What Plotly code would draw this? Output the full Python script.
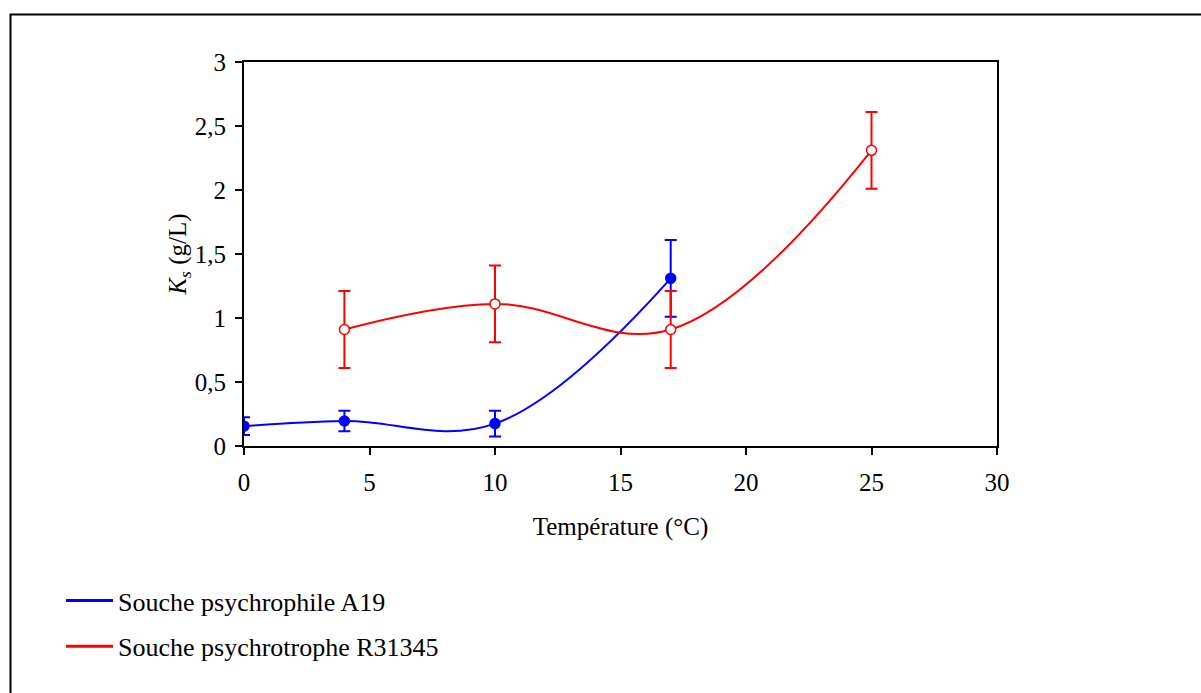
import plotly.graph_objects as go

# Data
temp_a19 = [0, 4, 10, 17]
ks_a19 = [0.155, 0.195, 0.175, 1.31]
err_a19 = [0.07, 0.08, 0.10, 0.30]

temp_r31345 = [4, 10, 17, 25]
ks_r31345 = [0.91, 1.11, 0.91, 2.31]
err_r31345 = [0.30, 0.30, 0.30, 0.30]

name_a19 = "Souche psychrophile A19"
name_r = "Souche psychrotrophe R31345"

FONT = "Liberation Serif, Times New Roman, serif"
BLUE = "#0000FF"
RED = "#FF0000"

fig = go.Figure()

fig.add_trace(go.Scatter(
    x=temp_a19, y=ks_a19, mode="lines+markers",
    line=dict(color=BLUE, width=2, shape="spline", smoothing=1.1),
    marker=dict(symbol="circle", size=10, color=BLUE, line=dict(color=BLUE, width=1.5)),
    error_y=dict(type="data", array=err_a19, visible=True, color=BLUE, thickness=2, width=6),
    showlegend=False,
))
fig.add_trace(go.Scatter(
    x=temp_r31345, y=ks_r31345, mode="lines+markers",
    line=dict(color=RED, width=2, shape="spline", smoothing=1.1),
    marker=dict(symbol="circle", size=10, color="white", line=dict(color=RED, width=1.5)),
    error_y=dict(type="data", array=err_r31345, visible=True, color=RED, thickness=2, width=6),
    showlegend=False,
))

# legend entries (line only)
fig.add_trace(go.Scatter(x=[None], y=[None], mode="lines", name=name_a19,
                         legendgroup="a", line=dict(color=BLUE, width=3)))
fig.add_trace(go.Scatter(x=[None], y=[None], mode="lines", name=name_r,
                         legendgroup="b", line=dict(color=RED, width=3)))

# outer frame
fig.add_shape(type="rect", xref="paper", yref="paper",
              x0=(10.5 - 244) / 753, x1=(1210 - 244) / 753,
              y0=(446 - 710) / 384, y1=(446 - 14.5) / 384,
              line=dict(color="black", width=2), fillcolor="rgba(0,0,0,0)", layer="below")

fig.update_layout(
    width=1201, height=693,
    margin=dict(l=244, r=204, t=62, b=247),
    paper_bgcolor="white", plot_bgcolor="white",
    separators=", ",
    font=dict(family=FONT, size=25, color="black"),
    legend=dict(x=(61 - 244) / 753, y=(446 - 577) / 384, xanchor="left", yanchor="top",
                bgcolor="rgba(0,0,0,0)", itemwidth=47, tracegroupgap=9,
                font=dict(family=FONT, size=26)),
    xaxis=dict(range=[0, 30], dtick=5, tick0=0, showgrid=False, zeroline=False,
               showline=True, linecolor="black", linewidth=2, mirror=True,
               ticks="outside", ticklen=7, tickwidth=2, tickcolor="black",
               ticklabelstandoff=6,
               title=dict(text="Température (°C)", standoff=22, font=dict(size=25))),
    yaxis=dict(range=[0, 3], dtick=0.5, tick0=0, showgrid=False, zeroline=False,
               showline=True, linecolor="black", linewidth=2, mirror=True,
               ticks="outside", ticklen=7, tickwidth=2, tickcolor="black",
               ticklabelstandoff=4,
               title=dict(text="<i>K<sub>s</sub></i> (g/L)", standoff=1, font=dict(size=25))),
)

fig.write_html("out.html")
